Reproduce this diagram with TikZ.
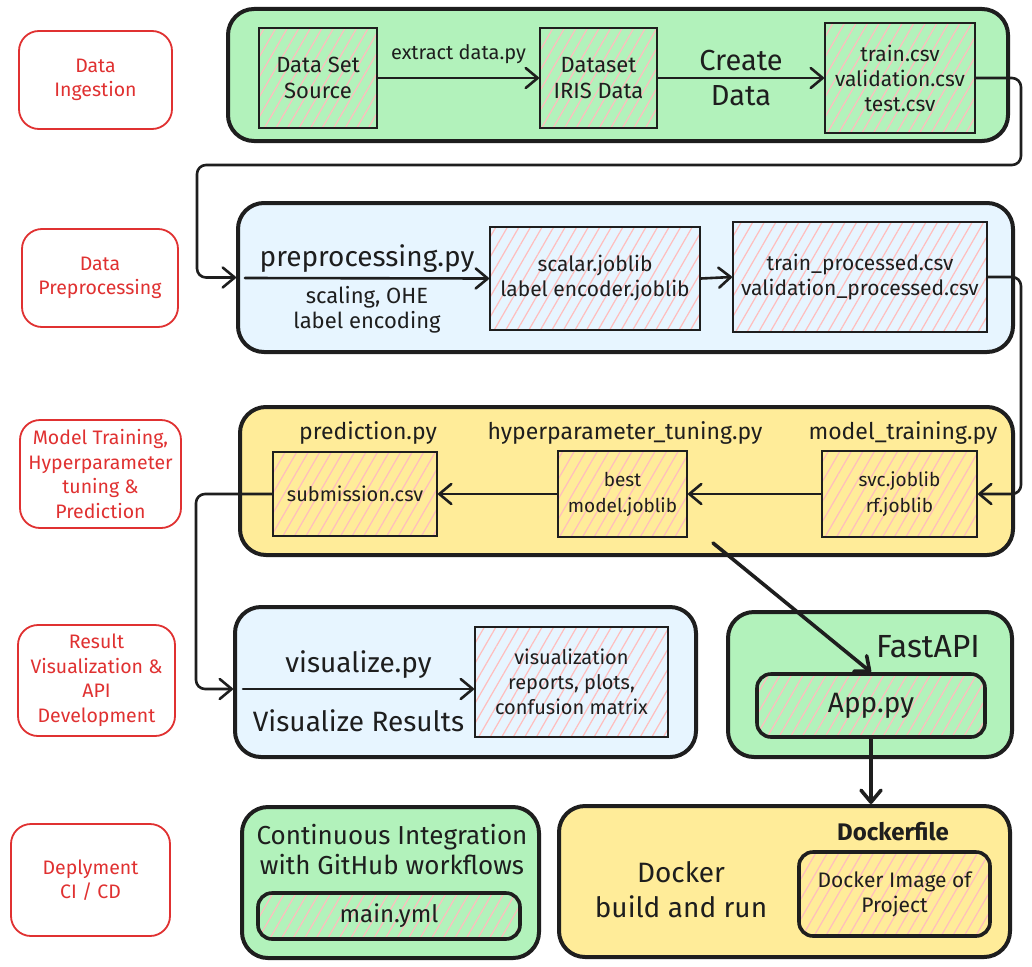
\documentclass[tikz,border=0pt]{standalone}
\usepackage{fontspec}
\setmainfont{Fira Sans}
\usetikzlibrary{arrows.meta,patterns.meta}

\definecolor{paneGreen}{HTML}{B2F2BB}
\definecolor{paneBlue}{HTML}{E7F5FF}
\definecolor{paneYellow}{HTML}{FFEC99}
\definecolor{stageRed}{HTML}{E03131}
\definecolor{hatchPink}{HTML}{FFBDBD}
\definecolor{ink}{HTML}{1E1E1E}

\newcommand{\fsz}[2]{\fontsize{#1pt}{#2pt}\selectfont}

\tikzset{
  stagebox/.style={draw=stageRed, line width=1.8pt, rounded corners=20pt, fill=white,
    text=stageRed, align=center, font=\fsz{19.5}{24.5}, inner sep=0pt},
  panelbox/.style={draw=ink, line width=4pt, rounded corners=26pt, fill=#1, inner sep=0pt},
  itembox/.style={draw=ink, line width=2pt, align=center, inner sep=0pt, text=ink,
    font=\fsz{21}{25},
    preaction={fill=#1},
    preaction={pattern={Lines[angle=60,distance=10pt,line width=1.2pt]}, pattern color=hatchPink}},
  rounditem/.style={itembox=#1, line width=3.6pt, rounded corners=14pt},
  txt/.style={text=ink, align=center, inner sep=0pt, font=\fsz{20}{26}},
  bigtxt/.style={txt, font=\fsz{28}{35}},
  midtxt/.style={txt, font=\fsz{23}{30}},
  flow/.style={draw=ink, line width=2.6pt, line cap=round, line join=round, rounded corners=9pt,
    -{Straight Barb[length=12pt,width=20pt,round]}},
  heavyflow/.style={flow, line width=3.6pt},
}

\begin{document}
\begin{tikzpicture}[x=1pt, y=-1pt]
\useasboundingbox (0,0) rectangle (1032,966);
\fill[white] (0,0) rectangle (1032,966);

% stage captions
\node[stagebox, minimum width=153pt, minimum height=98pt] (s1) at (95.5,80) {Data\\Ingestion};
\node[stagebox, minimum width=156pt, minimum height=98pt] (s2) at (100,278) {Data\\Preprocessing};
\node[stagebox, minimum width=161pt, minimum height=108pt] (s3) at (100.5,474) {Model Training,\\Hyperparameter\\tuning \&\\Prediction};
\node[stagebox, minimum width=157pt, minimum height=111pt] (s4) at (96.5,680.5) {Result\\Visualization \&\\API\\Development};
\node[stagebox, minimum width=159pt, minimum height=112pt] (s5) at (90.5,880) {Deplyment\\CI / CD};

% stage panels
\node[panelbox=paneGreen, minimum width=780pt, minimum height=132pt] (p1) at (618,75) {};
\node[panelbox=paneBlue, minimum width=775pt, minimum height=149pt] (p2) at (625.5,277.5) {};
\node[panelbox=paneYellow, minimum width=773pt, minimum height=148pt] (p3) at (626.5,481) {};
\node[panelbox=paneBlue, minimum width=461pt, minimum height=150pt] (p4) at (465.5,682) {};
\node[panelbox=paneGreen, minimum width=284pt, minimum height=145pt] (p5) at (870,684.5) {};
\node[panelbox=paneGreen, minimum width=297pt, minimum height=151pt] (p6) at (390.5,882.5) {};
\node[panelbox=paneYellow, minimum width=451pt, minimum height=151pt] (p7) at (784.5,881.5) {};

% ingestion
\node[itembox=paneGreen, minimum width=118pt, minimum height=100pt, font=\fsz{22}{26}] (dss) at (318,78) {Data Set\\Source};
\node[itembox=paneGreen, minimum width=117pt, minimum height=100pt, font=\fsz{22}{26}] (iris) at (598.5,78) {Dataset\\IRIS Data};
\node[itembox=paneGreen, minimum width=150pt, minimum height=110pt] (splits) at (900,78) {train.csv\\validation.csv\\test.csv};

% preprocessing
\node[itembox=paneBlue, minimum width=210pt, minimum height=103pt] (scaler) at (595,278.5) {scalar.joblib\\label encoder.joblib};
\node[itembox=paneBlue, minimum width=254pt, minimum height=110pt] (procd) at (860,277) {train\_processed.csv\\validation\_processed.csv};

% training
\node[itembox=paneYellow, minimum width=164pt, minimum height=84pt, font=\fsz{20}{26}] (subm) at (355,494) {submission.csv};
\node[itembox=paneYellow, minimum width=129pt, minimum height=86pt, font=\fsz{19}{26}] (best) at (622.5,494) {best\\model.joblib};
\node[itembox=paneYellow, minimum width=155pt, minimum height=86pt, font=\fsz{19}{26}] (svc) at (899.5,494) {svc.joblib\\rf.joblib};
\node[midtxt] (tpred) at (368,433) {prediction.py};
\node[midtxt] (thyp) at (625,433) {hyperparameter\_tuning.py};
\node[midtxt] (ttrain) at (903,433) {model\_training.py};

% visualization and API
\node[itembox=paneBlue, minimum width=193pt, minimum height=110pt, font=\fsz{20}{25}] (vis) at (571.5,682) {visualization\\reports, plots,\\confusion matrix};
\node[txt, font=\fsz{32}{36}] (tfast) at (928,647) {FastAPI};
\node[rounditem=paneGreen, minimum width=228pt, minimum height=63pt, font=\fsz{28}{30}] (app) at (871,705.5) {App.py};

% deployment
\node[txt, font=\fsz{26}{30}] (tci) at (392,850) {Continuous Integration\\with GitHub workflows};
\node[rounditem=paneGreen, minimum width=262pt, minimum height=46pt, font=\fsz{24}{26}] (mainyml) at (389,916) {main.yml};
\node[txt, font=\fsz{24}{26}\bfseries] (tdf) at (893,832) {Dockerfile};
\node[bigtxt] (tdock) at (681,890) {Docker\\build and run};
\node[rounditem=paneYellow, minimum width=191pt, minimum height=84pt, font=\fsz{21}{25}] (dimg) at (894.5,894) {Docker Image of\\Project};

% free ends of connectors
\coordinate (pin) at (245,278);
\coordinate (vtip) at (233,689);
\coordinate (vstart) at (243,689);
\coordinate (dstart) at (713,543);

% connectors
\draw[flow] (dss.east) -- node[txt, yshift=24pt] {extract data.py} (iris.west);
\draw[flow] (iris.east) -- node[txt, font=\fsz{29}{34}, yshift=17pt] {Create}
  node[txt, font=\fsz{29}{34}, yshift=-18pt] {Data} (splits.west);
\draw[flow] (splits.east) -- ++(45,0) |- (197,165) |- (p2.west);
\draw[flow] (pin) -- node[bigtxt, yshift=20pt] {preprocessing.py}
  node[txt, font=\fsz{22}{25}, yshift=-32pt] {scaling, OHE\\label encoding} (scaler.west);
\draw[flow] (scaler.east) -- (procd.west);
\draw[flow] (procd.east) -- ++(33,0) |- (svc.east);
\draw[flow] (svc.west) -- (best.east);
\draw[flow] (best.west) -- (subm.east);
\draw[flow] (subm.west) -- ++(-76,0) |- (vtip);
\draw[flow] (vstart) -- node[bigtxt, yshift=24pt] {visualize.py}
  node[bigtxt, yshift=-32pt] {Visualize Results} (vstart -| vis.west);
\draw[heavyflow] (dstart) -- (app.north);
\draw[heavyflow] (app.south) -- (app.south |- p7.north);
\end{tikzpicture}
\end{document}
